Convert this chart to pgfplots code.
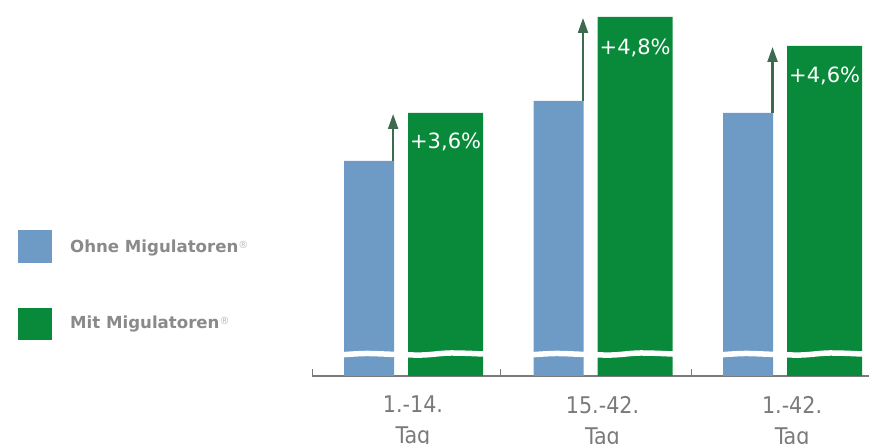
\documentclass[border=0pt]{standalone}
\usepackage{pgfplots}
\pgfplotsset{compat=1.18}
\usepackage{pgfplotstable}
\usetikzlibrary{arrows.meta}
\usepackage{fontspec}
\setmainfont{DejaVu Sans}
\newfontfamily\condfont{DejaVu Sans Condensed}

\definecolor{ohne}{HTML}{6D9BC6}
\definecolor{mit}{HTML}{098A3B}
\definecolor{pfeil}{HTML}{3E6A4F}
\definecolor{achse}{HTML}{7A7A7A}
\definecolor{schrift}{HTML}{8A8A8A}

% Tageszunahme (gebrochene Achse, relative Darstellung)
\pgfplotstableread{
x ohne mit
0 215 263
1 275 359
2 263 330
}\werte

\newcommand{\reg}{\raisebox{4bp}{\color{schrift!60}\mdseries\fontsize{10bp}{10bp}\selectfont ®}}

\begin{document}
\begin{tikzpicture}[x=1bp,y=1bp]
\useasboundingbox (0,0) rectangle (869,444);

% Legende
\fill[ohne] (18,181) rectangle (52,214);
\fill[mit]  (18,104) rectangle (52,136);
\node[anchor=base west, inner sep=0pt, text=schrift, font=\bfseries\fontsize{16.6bp}{18bp}\selectfont]
  at (70,191) {Ohne Migulatoren\reg};
\node[anchor=base west, inner sep=0pt, text=schrift, font=\bfseries\fontsize{16.6bp}{18bp}\selectfont]
  at (70,115) {Mit Migulatoren\reg};

\begin{axis}[
  at={(312bp,68bp)}, anchor=south west,
  scale only axis, width=557bp, height=376bp,
  xmin=-0.533, xmax=2.406, ymin=0, ymax=376,
  axis x line=bottom, axis y line=none,
  x axis line style={-, draw=achse, line width=1.3bp},
  xtick={0,1,2},
  xticklabels={{1.-14.\\Tag},{15.-42.\\Tag},{1.-42.\\Tag}},
  major tick length=0pt,
  minor xtick={-0.533,0.464,1.467},
  minor tick length=7bp,
  tick align=inside,
  minor tick style={draw=achse, line width=1bp},
  xticklabel style={align=center, inner sep=0pt, yshift=-20bp, text=achse,
    font=\condfont\fontsize{23bp}{31bp}\selectfont},
  ytick=\empty,
]
\addplot[ybar, bar width=0.264, bar shift=-0.232, fill=ohne, draw=none] table[x=x, y=ohne] {\werte};
\addplot[ybar, bar width=0.396, bar shift=0.172, fill=mit, draw=none] table[x=x, y=mit] {\werte};

% Achsenbruch
\foreach \i in {0,1,2} {
  \edef\tmp{\noexpand\addplot[white, line width=5.5bp, smooth, tension=0.6, no marks]
    coordinates {(\i-0.39,21) (\i-0.25,22.5) (\i-0.1,21.6) (\i+0.05,21) (\i+0.2,23) (\i+0.39,21.8)};}
  \tmp
}

% Zuwachspfeile
\addplot[pfeil, line width=2.2bp, -{Triangle[length=15bp,width=10bp]}] coordinates {(-0.105,215) (-0.105,262)};
\addplot[pfeil, line width=2.2bp, -{Triangle[length=15bp,width=10bp]}] coordinates {(0.897,275) (0.897,358)};
\addplot[pfeil, line width=2.2bp, -{Triangle[length=15bp,width=10bp]}] coordinates {(1.897,263) (1.897,329)};

\node[anchor=base, inner sep=0pt, text=white, font=\fontsize{21bp}{24bp}\selectfont, yshift=-36bp]
  at (axis cs:0.172,263) {+3,6\%};
\node[anchor=base, inner sep=0pt, text=white, font=\fontsize{21bp}{24bp}\selectfont, yshift=-38bp]
  at (axis cs:1.172,359) {+4,8\%};
\node[anchor=base, inner sep=0pt, text=white, font=\fontsize{21bp}{24bp}\selectfont, yshift=-37bp]
  at (axis cs:2.172,330) {+4,6\%};
\end{axis}
\end{tikzpicture}
\end{document}
